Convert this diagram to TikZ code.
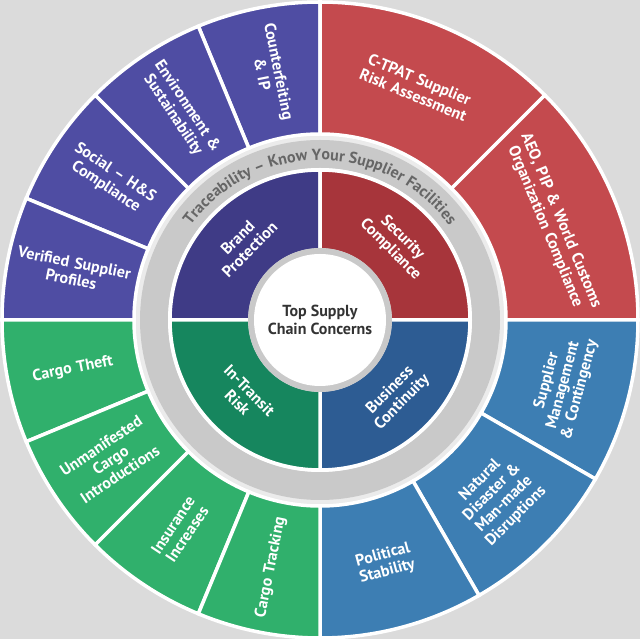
\documentclass[tikz,border=0pt]{standalone}
\usepackage{fontspec}
\setmainfont{PT Sans}
\usetikzlibrary{decorations.text}
\definecolor{purO}{HTML}{4F4DA3}
\definecolor{purI}{HTML}{3F3B86}
\definecolor{redO}{HTML}{C44A4E}
\definecolor{redI}{HTML}{A7353B}
\definecolor{bluO}{HTML}{3D7EB3}
\definecolor{bluI}{HTML}{2D5C93}
\definecolor{grnO}{HTML}{30B06C}
\definecolor{grnI}{HTML}{16865E}
\definecolor{ringgray}{HTML}{C9C9C9}
\newcommand{\wedgeseg}[5]{\fill[#1,draw=white,line width=3.5pt] (#2:#5) arc[start angle=#2,end angle=#3,radius=#5] -- (#3:#4) arc[start angle=#3,end angle=#2,radius=#4] -- cycle;}
\tikzset{
 seglabel/.style={text=white,font=\bfseries\fontsize{16}{17}\selectfont,align=center,text width=125pt,inner sep=0pt},
 corelabel/.style={text=white,font=\bfseries\fontsize{16}{17}\selectfont,align=center},
}
\begin{document}
\begin{tikzpicture}[x=1pt,y=1pt]
\useasboundingbox (0,0) rectangle (640,639);
\shade[inner color=white,outer color=black!14] (0,0) rectangle (640,639);
\begin{scope}[shift={(320,319)}]
% outer segments
\wedgeseg{purO}{90}{112.5}{186}{318}
\wedgeseg{purO}{112.5}{135}{186}{318}
\wedgeseg{purO}{135}{157.5}{186}{318}
\wedgeseg{purO}{157.5}{180}{186}{318}
\wedgeseg{redO}{45}{90}{186}{318}
\wedgeseg{redO}{0}{45}{186}{318}
\wedgeseg{bluO}{-30}{0}{186}{318}
\wedgeseg{bluO}{-60}{-30}{186}{318}
\wedgeseg{bluO}{-90}{-60}{186}{318}
\wedgeseg{grnO}{180}{202.5}{186}{318}
\wedgeseg{grnO}{202.5}{225}{186}{318}
\wedgeseg{grnO}{225}{247.5}{186}{318}
\wedgeseg{grnO}{247.5}{270}{186}{318}
% gray ring
\fill[ringgray] (0,0) circle (180);
\fill[white] (0,0) circle (152);
% inner quadrants
\wedgeseg{purI}{90}{180}{70}{150}
\wedgeseg{redI}{0}{90}{70}{150}
\wedgeseg{bluI}{-90}{0}{70}{150}
\wedgeseg{grnI}{180}{270}{70}{150}
\fill[ringgray] (0,0) circle (72);
\fill[white] (0,0) circle (66);
\node[font=\bfseries\fontsize{16}{18}\selectfont,text=black!80,align=center] (center) at (0,0) {Top Supply\\Chain Concerns};
% ring text
\path[decorate,decoration={text along path,text align=center,text={|\bfseries\fontsize{16}{16}\selectfont\color{black!60}|Traceability – Know Your Supplier Facilities}}] (160:160) arc[start angle=160,end angle=20,radius=160];
% inner labels
\node[corelabel,rotate=45] (brand) at (135:108) {Brand\\Protection};
\node[corelabel,rotate=-45] (security) at (45:108) {Security\\Compliance};
\node[corelabel,rotate=45] (business) at (-45:108) {Business\\Continuity};
\node[corelabel,rotate=-45] (transit) at (225:108) {In-Transit\\Risk};
% outer labels
\node[seglabel,rotate=-78.75] (counter) at (101.25:252) {Counterfeiting\\\& IP};
\node[seglabel,rotate=-56.25] (env) at (123.75:252) {Environment \&\\Sustainability};
\node[seglabel,rotate=-33.75] (social) at (146.25:252) {Social – H\&S\\Compliance};
\node[seglabel,rotate=-11.25] (verified) at (168.75:252) {Verified Supplier\\Profiles};
\node[seglabel,rotate=-22.5,text width=140pt] (ctpat) at (67.5:252) {C-TPAT Supplier\\Risk Assessment};
\node[seglabel,rotate=-67.5,text width=200pt] (aeo) at (22.5:252) {AEO, PIP \& World Customs\\Organization Compliance};
\node[seglabel,rotate=75] (supplier) at (-15:252) {Supplier\\Management\\\& Contingency};
\node[seglabel,rotate=45] (natural) at (-45:252) {Natural\\Disaster \&\\Man-made\\Disruptions};
\node[seglabel,rotate=15] (political) at (-75:252) {Political\\Stability};
\node[seglabel,rotate=11.25] (theft) at (191.25:252) {Cargo Theft};
\node[seglabel,rotate=33.75] (unman) at (213.75:252) {Unmanifested\\Cargo\\Introductions};
\node[seglabel,rotate=56.25] (insur) at (236.25:252) {Insurance\\Increases};
\node[seglabel,rotate=78.75] (track) at (258.75:252) {Cargo Tracking};
\end{scope}
\end{tikzpicture}
\end{document}
